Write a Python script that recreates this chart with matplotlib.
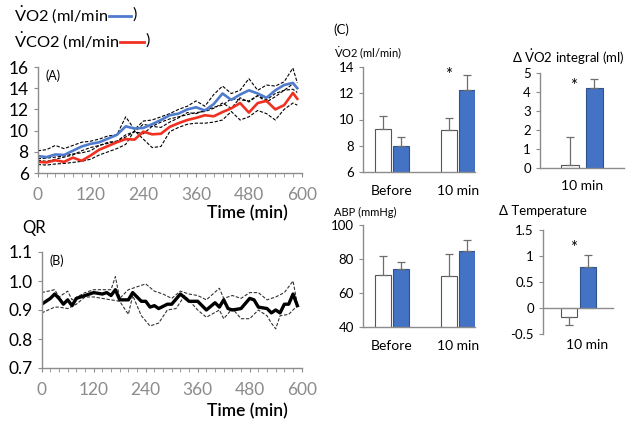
import matplotlib
matplotlib.use('Agg')
import matplotlib.pyplot as plt
from matplotlib.lines import Line2D

plt.rcParams['font.family'] = ['Lato', 'DejaVu Sans']
plt.rcParams['mathtext.fontset'] = 'custom'
plt.rcParams['mathtext.rm'] = 'Lato'
plt.rcParams['mathtext.it'] = 'Lato:italic'
plt.rcParams['mathtext.bf'] = 'Lato:bold'

W, H = 632, 426

# ---- panel A: VO2 / VCO2 time course (mean and +-SD) ----
t_a = [0, 20, 40, 60, 80, 100, 120, 140, 160, 180, 200, 220, 240, 260, 280, 300,
       320, 340, 360, 380, 400, 420, 440, 460, 480, 500, 520, 540, 560, 580, 590]
vo2_mean = [7.6, 7.5, 7.75, 7.7, 8.1, 8.5, 8.75, 8.9, 9.25, 9.6, 10.4, 10.2, 10.25, 10.6, 11.0, 11.45,
            11.6, 12.0, 12.2, 11.9, 12.5, 13.5, 12.9, 13.4, 13.8, 13.5, 13.1, 13.8, 14.3, 14.5, 14.0]
vo2_hi = [8.1, 8.2, 8.6, 8.3, 8.6, 8.9, 9.0, 9.2, 9.5, 9.6, 11.3, 10.1, 10.9, 11.0, 11.3, 11.6,
          12.0, 12.3, 12.8, 12.3, 13.4, 14.2, 13.5, 13.8, 14.9, 13.8, 14.3, 14.2, 14.6, 15.9, 14.5]
vo2_lo = [7.2, 7.1, 7.3, 7.5, 7.7, 8.1, 8.4, 8.6, 8.9, 9.0, 9.4, 9.9, 9.7, 10.4, 10.8, 11.1,
          11.3, 11.5, 11.7, 11.8, 12.1, 12.6, 12.1, 13.1, 12.7, 13.3, 12.9, 13.5, 13.8, 13.9, 13.6]
vco2_mean = [7.05, 7.0, 7.2, 7.05, 7.45, 7.15, 7.65, 8.2, 8.55, 8.9, 9.2, 9.15, 9.9, 9.65, 9.7, 10.35,
             10.7, 11.0, 11.2, 11.45, 11.35, 11.75, 12.1, 12.6, 11.7, 12.6, 12.8, 12.0, 12.4, 13.55, 13.0]
vco2_hi = [7.35, 7.4, 7.5, 7.6, 7.8, 7.9, 8.1, 8.6, 8.8, 9.0, 9.6, 9.9, 10.6, 10.4, 10.3, 10.8,
           11.2, 11.7, 11.6, 11.9, 12.2, 12.4, 13.0, 12.9, 12.8, 13.3, 12.7, 13.2, 13.8, 14.4, 14.0]
vco2_lo = [6.8, 6.75, 6.85, 6.9, 7.0, 7.1, 7.3, 7.7, 8.0, 8.3, 8.7, 10.0, 9.2, 8.4, 8.5, 9.9,
           10.3, 10.6, 10.7, 10.7, 10.8, 11.0, 11.8, 11.0, 11.3, 11.9, 11.6, 11.0, 12.0, 12.6, 12.4]

# ---- panel B: QR ----
t_qr = [0, 20, 30, 40, 50, 60, 70, 80, 100, 120, 140, 150, 160, 170, 180, 200, 210, 230, 240,
        250, 260, 270, 290, 300, 320, 340, 360, 380, 400, 410, 420, 430, 440, 460, 480, 490,
        500, 520, 530, 540, 550, 560, 570, 580, 590]
qr_mean = [0.92, 0.94, 0.955, 0.94, 0.92, 0.935, 0.915, 0.94, 0.95, 0.96, 0.955, 0.96, 0.95, 0.97,
           0.935, 0.935, 0.96, 0.93, 0.93, 0.91, 0.915, 0.905, 0.92, 0.92, 0.955, 0.93, 0.93, 0.90,
           0.925, 0.91, 0.935, 0.905, 0.90, 0.905, 0.94, 0.935, 0.91, 0.905, 0.89, 0.90, 0.89, 0.92,
           0.92, 0.955, 0.915]
t_qr_hi = [0, 30, 40, 60, 70, 100, 120, 160, 170, 180, 200, 220, 240, 260, 280, 300, 320, 340,
           360, 380, 410, 420, 440, 460, 480, 500, 520, 540, 560, 580, 590]
qr_hi = [0.96, 0.97, 0.945, 0.965, 0.935, 0.96, 0.97, 0.97, 1.015, 0.94, 0.97, 0.98, 0.99, 0.965,
         0.955, 0.94, 0.965, 0.955, 0.95, 0.935, 0.975, 0.94, 0.95, 0.94, 0.96, 0.96, 0.935, 0.945,
         0.96, 1.0, 0.92]
t_qr_lo = [0, 30, 40, 60, 80, 100, 120, 160, 180, 200, 210, 230, 250, 270, 290, 310, 330, 360,
           380, 410, 420, 440, 460, 480, 500, 520, 530, 540, 550, 570, 590]
qr_lo = [0.89, 0.91, 0.91, 0.905, 0.92, 0.945, 0.945, 0.935, 0.93, 0.885, 0.95, 0.88, 0.845, 0.855,
         0.90, 0.905, 0.95, 0.90, 0.875, 0.90, 0.87, 0.905, 0.87, 0.87, 0.90, 0.88, 0.855, 0.835,
         0.88, 0.885, 0.915]

# ---- panel C: bar charts (white = control, blue = treated) ----
groups = ['Before', '10 min']
vo2_ctrl = [9.3, 9.2]
vo2_ctrl_err = [1.0, 0.95]
vo2_trt = [8.0, 12.25]
vo2_trt_err = [0.65, 1.15]
integ_vals = [0.15, 4.2]
integ_err = [1.5, 0.5]
abp_ctrl = [70.5, 70.0]
abp_ctrl_err = [11.0, 13.0]
abp_trt = [74.0, 84.5]
abp_trt_err = [4.5, 6.5]
temp_vals = [-0.17, 0.78]
temp_err = [0.15, 0.24]

BLUE = '#4f7bcc'
RED = '#f03020'
BAR_BLUE = '#4472c4'
GREY = '#8c8c8c'
VDOT = r'$\dot{\mathrm{V}}$'


def rect(x0, x1, ytop, ybot):
    return [x0 / W, 1 - ybot / H, (x1 - x0) / W, (ybot - ytop) / H]


fig = plt.figure(figsize=(W / 100, H / 100), dpi=100)
renderer = fig.canvas.get_renderer()


def style(ax, fs):
    for s in ['top', 'right']:
        ax.spines[s].set_visible(False)
    for s in ['left', 'bottom']:
        ax.spines[s].set_color(GREY)
        ax.spines[s].set_linewidth(1.0)
    ax.tick_params(axis='both', colors=GREY, labelcolor='black', labelsize=fs,
                   direction='out', length=3)


# panel A
axA = fig.add_axes(rect(37.7, 301.7, 67, 173))
dash = dict(color='black', ls=(0, (3, 1.5)), lw=0.8)
for yv in (vo2_hi, vo2_lo, vco2_hi, vco2_lo):
    axA.plot(t_a, yv, **dash)
axA.plot(t_a, vo2_mean, color=BLUE, lw=1.9)
axA.plot(t_a, vco2_mean, color=RED, lw=1.9)
axA.set_xlim(0, 600)
axA.set_ylim(6, 16)
axA.set_xticks(range(0, 601, 120))
axA.set_xticks(range(0, 601, 20), minor=True)
axA.set_yticks(range(6, 17, 2))
style(axA, 12.5)
axA.tick_params(axis='x', which='both', length=3, colors=GREY)
axA.tick_params(axis='x', pad=7)
axA.text(0.03, 0.98, '(A)', transform=axA.transAxes, fontsize=9, va='top')


# legend-style header of panel A: "label ---)" with the line swatch inside the bracket
def header(label, color, ypx, seg):
    t = fig.text(14 / W, 1 - ypx / H, label, fontsize=11.8, va='center')
    x1 = t.get_window_extent(renderer).x1
    fig.add_artist(Line2D([(x1 + 1) / W, (x1 + 1 + seg) / W], [1 - (ypx + 1) / H] * 2,
                          color=color, lw=2))
    fig.text((x1 + seg + 2) / W, 1 - ypx / H, ')', fontsize=11.8, va='center')


header(VDOT + 'O2 (ml/min', BLUE, 15, 22)
header(VDOT + 'CO2 (ml/min', RED, 41, 24)
fig.text(288 / W, 1 - 213 / H, 'Time (min)', fontsize=12.5, fontweight='semibold',
         ha='right', va='center')

# panel B
axB = fig.add_axes(rect(41.7, 301.7, 252, 368))
axB.plot(t_qr_hi, qr_hi, color='#333333', ls=(0, (3, 1.5)), lw=0.8)
axB.plot(t_qr_lo, qr_lo, color='#333333', ls=(0, (3, 1.5)), lw=0.8)
axB.plot(t_qr, qr_mean, color='black', lw=2.4)
axB.set_xlim(0, 600)
axB.set_ylim(0.7, 1.1)
axB.set_xticks(range(0, 601, 120))
axB.set_xticks(range(0, 601, 20), minor=True)
axB.set_yticks([0.7, 0.8, 0.9, 1.0, 1.1])
axB.set_yticklabels(['0.7', '0.8', '0.9', '1.0', '1.1'])
style(axB, 12.5)
axB.tick_params(axis='x', which='both', length=3, colors=GREY)
axB.tick_params(axis='x', pad=7)
axB.text(0.03, 0.98, '(B)', transform=axB.transAxes, fontsize=9, va='top')
fig.text(22 / W, 1 - 228 / H, 'QR', fontsize=12, va='center')
fig.text(288 / W, 1 - 411 / H, 'Time (min)', fontsize=12.5, fontweight='semibold',
         ha='right', va='center')

# bar helpers
OFF = 0.14
BW = 0.24
ekw = dict(ecolor='#6e6e6e', elinewidth=0.9, capsize=3, capthick=0.9)


def paired(ax, ctrl, ctrl_err, trt, trt_err):
    xs = range(len(groups))
    xc = [x - OFF for x in xs]
    xt = [x + OFF for x in xs]
    ax.bar(xc, ctrl, BW, color='white', edgecolor='#555555', lw=0.8,
           yerr=[[0] * len(ctrl), ctrl_err], error_kw=ekw)
    ax.bar(xt, trt, BW, color=BAR_BLUE, edgecolor='#2f528f', lw=0.8,
           yerr=[[0] * len(trt), trt_err], error_kw=ekw)
    ax.set_xticks(list(xs))
    ax.set_xticklabels(groups)


fig.text(333 / W, 1 - 30 / H, '(C)', fontsize=9.5, va='center')

# C1: VO2
axC1 = fig.add_axes(rect(363, 475, 67, 172))
paired(axC1, vo2_ctrl, vo2_ctrl_err, vo2_trt, vo2_trt_err)
axC1.set_xlim(-0.44, 1.26)
axC1.set_ylim(6, 14)
axC1.set_yticks(range(6, 15, 2))
style(axC1, 9.5)
axC1.tick_params(axis='x', length=0, pad=9, labelsize=10)
axC1.text(1 - OFF, 13.4, '*', ha='center', va='center', fontsize=12)
fig.text(334 / W, 1 - 53 / H, VDOT + 'O2 (ml/min)', fontsize=8, va='center')

# C2: VO2 integral
axC2 = fig.add_axes(rect(540, 624, 73, 168))
axC2.bar([-0.18], [integ_vals[0]], 0.27, color='white', edgecolor='#555555', lw=0.8,
         yerr=[[0], [integ_err[0]]], error_kw=ekw)
axC2.bar([0.19], [integ_vals[1]], 0.27, color=BAR_BLUE, edgecolor='#2f528f', lw=0.8,
         yerr=[[0], [integ_err[1]]], error_kw=ekw)
axC2.set_xlim(-0.64, 0.64)
axC2.set_ylim(0, 5)
axC2.set_yticks(range(0, 6))
axC2.set_xticks([0])
axC2.set_xticklabels(['10 min'])
style(axC2, 9.5)
axC2.tick_params(axis='x', length=0, pad=9, labelsize=10)
axC2.text(-0.13, 4.3, '*', ha='center', va='center', fontsize=12)
fig.text(512 / W, 1 - 57 / H, '\u0394 ' + VDOT + 'O2 integral (ml)', fontsize=9.5, va='center')

# C3: ABP
axC3 = fig.add_axes(rect(363, 475, 225, 327))
paired(axC3, abp_ctrl, abp_ctrl_err, abp_trt, abp_trt_err)
axC3.set_xlim(-0.44, 1.26)
axC3.set_ylim(40, 100)
axC3.set_yticks(range(40, 101, 20))
style(axC3, 9.5)
axC3.tick_params(axis='x', length=0, pad=9, labelsize=10)
fig.text(334 / W, 1 - 212 / H, 'ABP (mmHg)', fontsize=8, va='center')

# C4: temperature change
axC4 = fig.add_axes(rect(543, 613, 230, 334))
axC4.bar([-0.15], [temp_vals[0]], BW, color='white', edgecolor='#555555', lw=0.8,
         yerr=[[temp_err[0]], [0]], error_kw=ekw)
axC4.bar([0.14], [temp_vals[1]], BW, color=BAR_BLUE, edgecolor='#2f528f', lw=0.8,
         yerr=[[0], [temp_err[1]]], error_kw=ekw)
axC4.set_xlim(-0.55, 0.52)
axC4.set_ylim(-0.5, 1.5)
axC4.set_yticks([-0.5, 0, 0.5, 1, 1.5])
axC4.set_yticklabels(['-0.5', '0', '0.5', '1', '1.5'])
style(axC4, 9.5)
axC4.spines['bottom'].set_position(('data', 0))
axC4.set_xticks([])
axC4.text(0.12, -0.71, '10 min', ha='center', va='center', fontsize=10)
axC4.text(-0.08, 1.15, '*', ha='center', va='center', fontsize=12)
fig.text(499 / W, 1 - 211 / H, '\u0394 Temperature', fontsize=9.5, va='center')

fig.savefig('out.png', dpi=100)
